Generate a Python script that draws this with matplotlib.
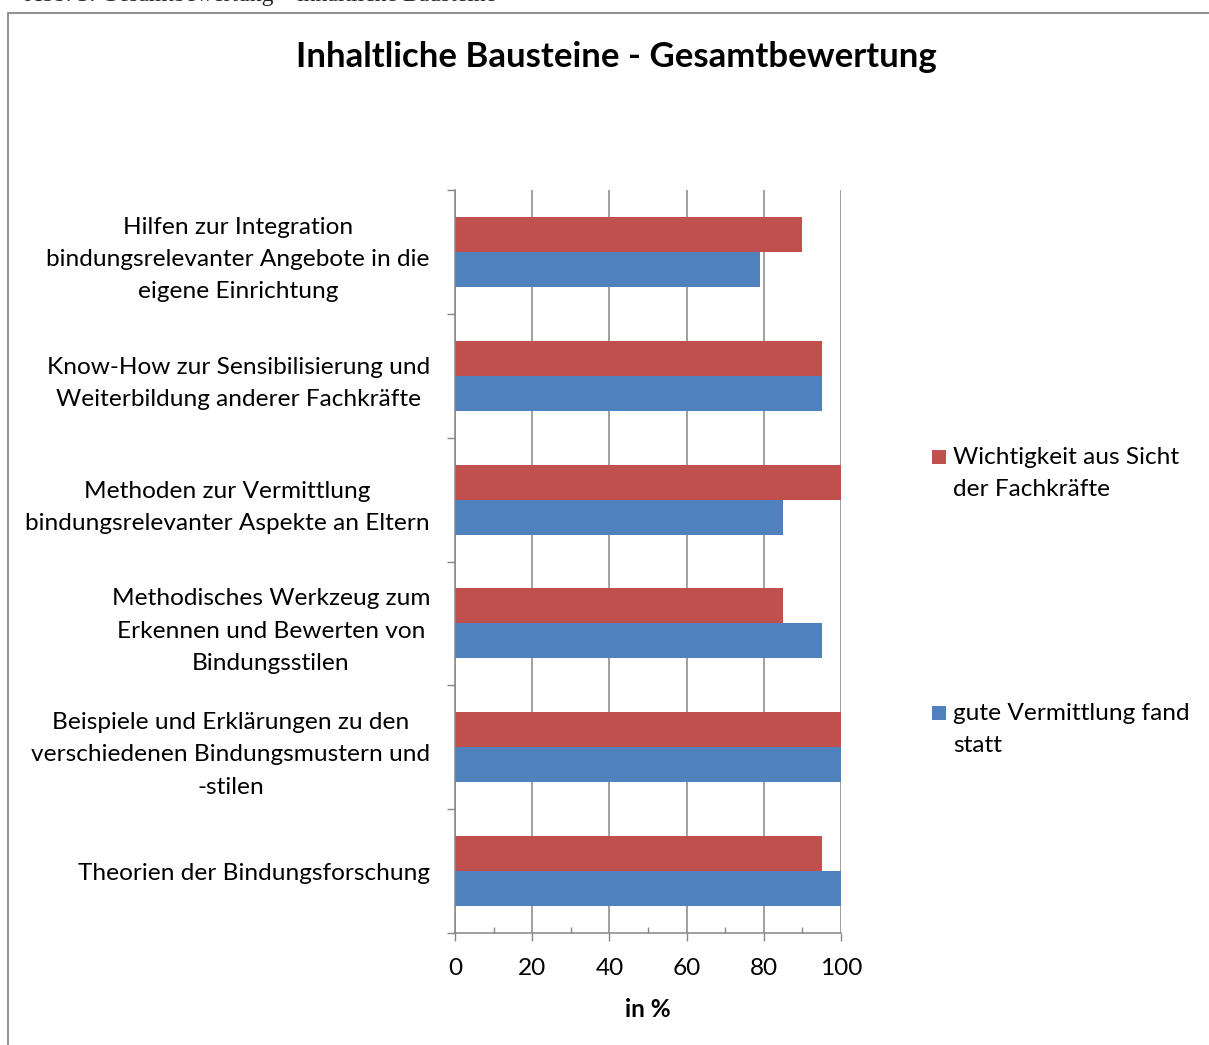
import matplotlib
matplotlib.use("Agg")
import matplotlib.pyplot as plt
from matplotlib.patches import Rectangle
import numpy as np

categories = [
    "Hilfen zur Integration\nbindungsrelevanter Angebote in die\neigene Einrichtung",
    "Know-How zur Sensibilisierung und\nWeiterbildung anderer Fachkräfte",
    "Methoden zur Vermittlung\nbindungsrelevanter Aspekte an Eltern",
    "Methodisches Werkzeug zum\nErkennen und Bewerten von\nBindungsstilen",
    "Beispiele und Erklärungen zu den\nverschiedenen Bindungsmustern und\n-stilen",
    "Theorien der Bindungsforschung",
]
series_names = ["Wichtigkeit aus Sicht\nder Fachkräfte", "gute Vermittlung fand\nstatt"]
wichtigkeit = [90, 95, 100, 85, 100, 95]
vermittlung = [79, 95, 85, 95, 100, 100]
x_ticks = [0, 20, 40, 60, 80, 100]
title = "Inhaltliche Bausteine - Gesamtbewertung"
x_label = "in %"
caption = "Abb. 3: Gesamtbewertung – inhaltliche Bausteine"

RED = "#C0504D"
BLUE = "#4F81BD"
GRID = "#868686"
FONT = "Lato"
FS = 17.6
LS = 1.66

W, H = 1209, 1045
fig = plt.figure(figsize=(W / 100, H / 100), dpi=100)

def fx(px):
    return px / W

def fy(py):
    return 1 - py / H

# outer border
fig.add_artist(Rectangle((fx(8), fy(1060)), fx(1220) - fx(8), fy(13) - fy(1060),
                         transform=fig.transFigure, fill=False, edgecolor="#888888", lw=1.3))
# cut-off caption at top (as in the reference, only its lower edge is visible)
fig.text(fx(25), fy(1), caption, family="Liberation Serif", fontsize=17, va="baseline", ha="left",
         color="#222222")

ax = fig.add_axes([fx(455), fy(933), fx(841) - fx(455), fy(190) - fy(933)])

y = np.arange(len(categories))
h = 0.282
ax.barh(y - h / 2, wichtigkeit, height=h, color=RED, zorder=3)
ax.barh(y + h / 2, vermittlung, height=h, color=BLUE, zorder=3)

ax.set_xlim(0, 100)
ax.set_ylim(len(categories) - 0.5, -0.5)

ax.set_xticks(x_ticks)
ax.set_xticklabels([str(t) for t in x_ticks], family=FONT, fontsize=FS)
ax.set_xticks(np.arange(10, 100, 20), minor=True)
ax.tick_params(axis="x", which="major", direction="out", length=6, width=1, color=GRID, pad=12)
ax.tick_params(axis="x", which="minor", direction="in", length=4.5, width=1, color=GRID)

ax.set_yticks(np.arange(-0.5, len(categories), 1.0))
ax.set_yticklabels([])
ax.set_yticks(y, minor=True)
ax.set_yticklabels(categories, minor=True, family=FONT, fontsize=FS, multialignment="center", linespacing=LS)
ax.tick_params(axis="y", which="major", direction="out", length=6, width=1, color=GRID)
ax.tick_params(axis="y", which="minor", length=0, pad=18)

ax.grid(axis="x", which="major", color=GRID, lw=1.1, zorder=0)
for s in ["top", "right"]:
    ax.spines[s].set_visible(False)
for s in ["left", "bottom"]:
    ax.spines[s].set_color(GRID)
    ax.spines[s].set_linewidth(1.1)
    ax.spines[s].set_zorder(4)

ax.set_xlabel(x_label, family=FONT, fontsize=FS, fontweight="bold", labelpad=14)

fig.text(fx(616), fy(57), title, family=FONT, fontsize=25, fontweight="bold", ha="center", va="center")

# legend
for name, col, ytop in [(series_names[0], RED, 450), (series_names[1], BLUE, 706)]:
    fig.add_artist(Rectangle((fx(932), fy(ytop + 14)), fx(946) - fx(932), fy(ytop) - fy(ytop + 14),
                             transform=fig.transFigure, facecolor=col, edgecolor="none"))
    fig.text(fx(953), fy(ytop - 3), name, family=FONT, fontsize=FS, ha="left", va="top", linespacing=LS)

fig.savefig("out.png", dpi=100)
